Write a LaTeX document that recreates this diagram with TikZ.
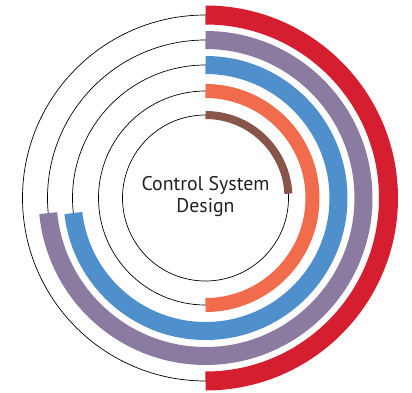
\documentclass[tikz,border=0pt]{standalone}
\usepackage{fontspec}
\newfontfamily\ringfont{PT Sans}
\definecolor{ringred}{HTML}{D51F30}
\definecolor{ringpurple}{HTML}{8C7BA0}
\definecolor{ringblue}{HTML}{4F8FCB}
\definecolor{ringorange}{HTML}{F06C4D}
\definecolor{ringbrown}{HTML}{87554A}
\definecolor{ringtext}{HTML}{231F20}
\begin{document}
\begin{tikzpicture}[x=1bp,y=1bp,
		guide/.style={draw=black,line width=0.7bp},
		band/.style={line cap=butt},
		title/.style={anchor=base,inner sep=0pt,text=ringtext,font=\ringfont\fontsize{19.8bp}{23bp}\selectfont}]
		\useasboundingbox (-205.5,-195) rectangle (206.5,198);
		% thin circles
		\draw[guide] (0,0) circle[radius=83];
		\draw[guide] (0,0) circle[radius=107];
		\draw[guide] (0,0) circle[radius=133];
		\draw[guide] (0,0) circle[radius=158];
		\draw[guide] (0,0) circle[radius=183];
		% coloured bands
		\draw[band,ringred,line width=19bp] (90:183) arc[start angle=90,end angle=-90,radius=183];
		\draw[band,ringpurple,line width=18bp] (90:158) arc[start angle=90,end angle=-174.5,radius=158];
		\draw[band,ringblue,line width=18bp] (90:133) arc[start angle=90,end angle=-173.5,radius=133];
		\draw[band,ringorange,line width=14bp] (90:107) arc[start angle=90,end angle=-90,radius=107];
		\draw[band,ringbrown,line width=8bp] (90:83) arc[start angle=90,end angle=3,radius=83];
		% title
		\node[title] (title1) at (0,8) {Control System};
		\node[title] (title2) at (0,-14.7) {Design};
		\end{tikzpicture}
\end{document}
